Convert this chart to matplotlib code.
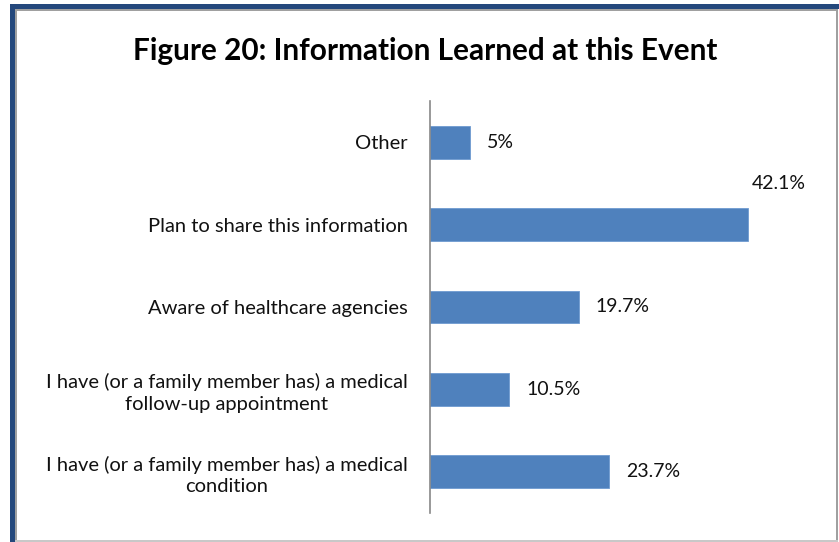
import matplotlib.pyplot as plt
from matplotlib.patches import Rectangle

# Dados (de baixo para cima)
categorias = [
    "I have (or a family member has) a medical\ncondition",
    "I have (or a family member has) a medical\nfollow-up appointment",
    "Aware of healthcare agencies",
    "Plan to share this information",
    "Other",
]
valores = [23.7, 10.5, 19.7, 42.1, 5.3]
rotulos = ["23.7%", "10.5%", "19.7%", "42.1%", "5%"]
titulo = "Figure 20: Information Learned at this Event"

W, H = 839, 542
fig = plt.figure(figsize=(W / 100, H / 100), dpi=100)
fig.patch.set_facecolor("white")

# Moldura (azul em cima/esquerda, cinza por dentro)
azul = "#24487c"
cinza = "#a0a0a0"
fig.patches.append(Rectangle((10 / W, 1 - 9 / H), 1, 5 / H, transform=fig.transFigure,
                             facecolor=azul, edgecolor="none"))
fig.patches.append(Rectangle((10 / W, 0), 5 / W, 1 - 4 / H, transform=fig.transFigure,
                             facecolor=azul, edgecolor="none"))
fig.patches.append(Rectangle((15 / W, 1 - 11 / H), 822 / W, 2 / H, transform=fig.transFigure,
                             facecolor=cinza, edgecolor="none"))
fig.patches.append(Rectangle((15 / W, 0), 2 / W, 1 - 9 / H, transform=fig.transFigure,
                             facecolor=cinza, edgecolor="none"))
fig.patches.append(Rectangle((836 / W, 0), 2 / W, 1 - 9 / H, transform=fig.transFigure,
                             facecolor=cinza, edgecolor="none"))
fig.patches.append(Rectangle((15 / W, 0), 823 / W, 2 / H, transform=fig.transFigure,
                             facecolor="#c8c8c8", edgecolor="none"))

# Eixos
esq, dir_, topo, base = 430, 808, 101, 513
ax = fig.add_axes([esq / W, 1 - base / H, (dir_ - esq) / W, (base - topo) / H])
ax.set_facecolor("none")

y = list(range(len(categorias)))
ax.barh(y, valores, height=0.4, color="#4f81bd", edgecolor="#6f9ad0", linewidth=0.6)
ax.set_xlim(0, 50)
ax.set_ylim(-0.5, len(categorias) - 0.5)

fonte = "Lato"
ax.set_yticks(y)
ax.set_yticklabels(categorias, fontsize=14.5, family=fonte, multialignment="center",
                   linespacing=1.3, color="#111111")
ax.tick_params(axis="y", length=0, pad=16)
ax.set_xticks([])
for lado in ["top", "right", "bottom"]:
    ax.spines[lado].set_visible(False)
ax.spines["left"].set_color("#888888")
ax.spines["left"].set_linewidth(1.2)

for i, (v, r) in enumerate(zip(valores, rotulos)):
    if v > 40:
        ax.text(v + 0.5, i + 0.5, r, va="center", ha="left", fontsize=14,
                family=fonte, color="#111111")
    else:
        ax.text(v + 2.2, i, r, va="center", ha="left", fontsize=14,
                family=fonte, color="#111111")

fig.text(425 / W, 1 - 51 / H, titulo, ha="center", va="center", fontsize=21.4,
         fontweight="bold", family=fonte)

fig.savefig("out.png", dpi=100)
